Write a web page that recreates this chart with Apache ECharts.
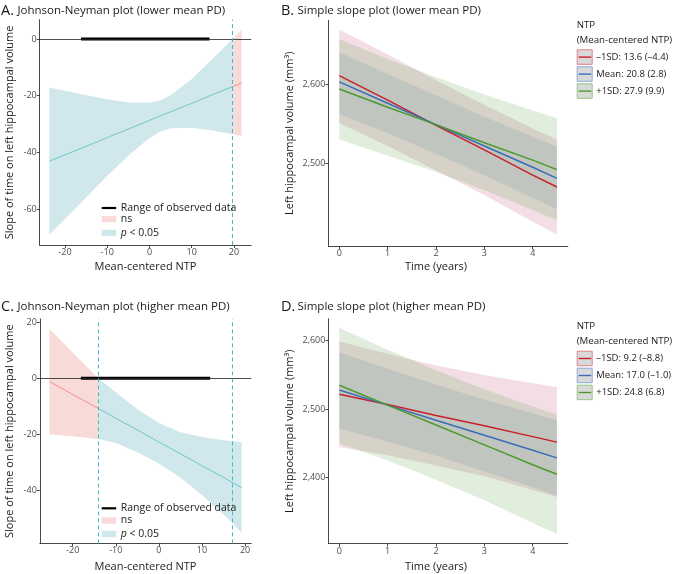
<!DOCTYPE html>
<html><head><meta charset="utf-8">
<script src="https://cdn.jsdelivr.net/npm/echarts@6/dist/echarts.min.js"></script>
<style>html,body{margin:0;padding:0;background:#fff}#c{width:674px;height:574px}</style>
</head><body><div id="c"></div>
<script>
// ---------- Panel A: Johnson-Neyman plot (lower mean PD) ----------
const jnA_ntp   = [-23.7, -20, -15, -10, -5, 0, 2.5, 5, 10, 15, 19.7, 21.8];
const jnA_slope = [-43.1, -40.9, -37.9, -34.8, -31.8, -28.7, -27.2, -25.7, -22.7, -19.6, -16.8, -15.5];
const jnA_upper = [-17.1, -18.3, -19.9, -21.3, -22.4, -22.5, -21.7, -19.9, -14.1, -6.9, 0.0, 3.2];
const jnA_lower = [-69.1, -63.5, -55.9, -48.3, -41.2, -34.9, -32.7, -31.5, -31.3, -32.3, -33.6, -34.2];
const jnA_sigRange = [-23.7, 19.7];
const jnA_nsRange  = [19.7, 21.8];
const jnA_bounds   = [19.7];
const jnA_observed = [-16.2, 14.2];
const jnA_xTicks = [-20, -10, 0, 10, 20];
const jnA_yTicks = [-60, -40, -20, 0];

// ---------- Panel C: Johnson-Neyman plot (higher mean PD) ----------
const jnC_ntp   = [-25.4, -20, -14.06, -10, -5, 0, 5, 10, 15, 17.1, 19.2];
const jnC_slope = [-1.2, -5.8, -10.8, -14.3, -18.5, -22.8, -27.0, -31.3, -35.5, -37.3, -39.1];
const jnC_upper = [17.7, 9.2, 0.0, -5.0, -11.0, -16.0, -19.3, -21.0, -22.2, -22.5, -22.9];
const jnC_lower = [-20.1, -20.8, -21.7, -23.2, -26.5, -30.5, -35.5, -41.8, -48.8, -51.8, -55.4];
const jnC_nsRange  = [-25.4, -14.06];
const jnC_sigRange = [-14.06, 19.2];
const jnC_bounds   = [-14.06, 17.1];
const jnC_observed = [-18.1, 11.9];
const jnC_xTicks = [-20, -10, 0, 10, 20];
const jnC_yTicks = [-40, -20, 0, 20];

// ---------- Panels B & D: simple slopes ----------
const timeYears = [0, 1, 2, 3, 4, 4.5];
const timeTicks = [0, 1, 2, 3, 4];

const ssB_labels = ['\u20131SD: 13.6 (\u20134.4)', 'Mean: 20.8 (2.8)', '+1SD: 27.9 (9.9)'];
const ssB_m1sd_fit   = [2611, 2580, 2548, 2517, 2485, 2470];
const ssB_m1sd_lower = [2551, 2522, 2491, 2460, 2426, 2410];
const ssB_m1sd_upper = [2669, 2638, 2605, 2574, 2544, 2530];
const ssB_mean_fit   = [2603, 2576, 2549, 2522, 2495, 2481];
const ssB_mean_lower = [2562, 2538, 2512, 2485, 2456, 2442];
const ssB_mean_upper = [2641, 2613, 2586, 2559, 2534, 2521];
const ssB_p1sd_fit   = [2594, 2571, 2549, 2526, 2504, 2492];
const ssB_p1sd_lower = [2530, 2510, 2489, 2466, 2441, 2428];
const ssB_p1sd_upper = [2657, 2632, 2609, 2587, 2567, 2557];
const ssB_yTicks = [2500, 2600];

const ssD_labels = ['\u20131SD: 9.2 (\u20138.8)', 'Mean: 17.0 (\u20131.0)', '+1SD: 24.8 (6.8)'];
const ssD_m1sd_fit   = [2522, 2507, 2491, 2476, 2460, 2452];
const ssD_m1sd_lower = [2445, 2433, 2418, 2402, 2382, 2372];
const ssD_m1sd_upper = [2599, 2581, 2564, 2550, 2538, 2532];
const ssD_mean_fit   = [2528, 2506, 2484, 2462, 2440, 2429];
const ssD_mean_lower = [2472, 2453, 2432, 2409, 2386, 2374];
const ssD_mean_upper = [2583, 2559, 2536, 2514, 2494, 2484];
const ssD_p1sd_fit   = [2535, 2506, 2477, 2448, 2419, 2405];
const ssD_p1sd_lower = [2450, 2425, 2397, 2367, 2334, 2318];
const ssD_p1sd_upper = [2619, 2587, 2557, 2529, 2504, 2492];
const ssD_yTicks = [2400, 2500, 2600];

// ---------- styling ----------
const FONT = 'Open Sans';
const TXT = '#1a1a1a';
const AX = '#333';
const SIG_FILL = '#d0e7eb', NS_FILL = '#f8dad8';
const SIG_LINE = '#66c2c8', NS_LINE = '#ef8a84', VLINE = '#3dbdc7';
const LINE_COL = ['#c8202a', '#3a6db5', '#4b9a2c'];
const BAND_FILL = ['rgba(175,60,95,0.17)', 'rgba(70,125,170,0.16)', 'rgba(105,165,85,0.2)'];
const KEY_STROKE = ['#e0838a', '#8aa9d6', '#93c784'];

const grids = [
  {left: 39.7, top: 19.7, width: 211.5, height: 225.3},
  {left: 328.4, top: 20.3, width: 239.4, height: 226},
  {left: 39.8, top: 319, width: 211.4, height: 224.4},
  {left: 328.4, top: 318.8, width: 239.4, height: 224.7}
];

function axisBase(gi, min, max, ticks, fmt) {
  return {
    type: 'value', gridIndex: gi, min: min, max: max, scale: true,
    axisLine: {show: true, onZero: false, lineStyle: {color: AX, width: 0.9}},
    axisTick: {show: true, length: 3, customValues: ticks, lineStyle: {color: AX, width: 0.9}},
    axisLabel: {customValues: ticks, formatter: fmt, color: '#4d4d4d', fontSize: 9, fontFamily: FONT, margin: 3},
    splitLine: {show: false}
  };
}
const plain = v => String(v);
const comma = v => v.toLocaleString('en-US');

function subsetIdx(xs, range) {
  const out = [];
  xs.forEach((x, i) => { if (x >= range[0] - 1e-9 && x <= range[1] + 1e-9) out.push(i); });
  return out;
}
function bandSeries(gi, xs, lo, hi, fill, z) {
  return {
    type: 'custom', xAxisIndex: gi, yAxisIndex: gi, z: z, silent: true, clip: true,
    data: xs.map((x, i) => [x, lo[i], hi[i]]),
    encode: {x: 0, y: [1, 2]},
    renderItem: function (params, api) {
      if (params.dataIndex !== 0) return null;
      const pts = [];
      for (let i = 0; i < xs.length; i++) pts.push(api.coord([xs[i], hi[i]]));
      for (let i = xs.length - 1; i >= 0; i--) pts.push(api.coord([xs[i], lo[i]]));
      return {type: 'polygon', shape: {points: pts}, style: {fill: fill}};
    }
  };
}
function lineSeries(gi, xs, ys, color, width, z) {
  return {
    type: 'line', xAxisIndex: gi, yAxisIndex: gi, z: z, silent: true, symbol: 'none',
    data: xs.map((x, i) => [x, ys[i]]),
    lineStyle: {color: color, width: width}, animation: false
  };
}
function jnSeries(gi, xs, slope, lo, hi, sigRange, nsRange, bounds, observed) {
  const s = [];
  const sigI = subsetIdx(xs, sigRange), nsI = subsetIdx(xs, nsRange);
  const take = (arr, idx) => idx.map(i => arr[i]);
  s.push(bandSeries(gi, take(xs, sigI), take(lo, sigI), take(hi, sigI), SIG_FILL, 1));
  s.push(bandSeries(gi, take(xs, nsI), take(lo, nsI), take(hi, nsI), NS_FILL, 1));
  s.push(lineSeries(gi, take(xs, sigI), take(slope, sigI), SIG_LINE, 0.9, 2));
  s.push(lineSeries(gi, take(xs, nsI), take(slope, nsI), NS_LINE, 0.9, 2));
  s.push({
    type: 'line', xAxisIndex: gi, yAxisIndex: gi, z: 3, silent: true, symbol: 'none',
    data: observed.map(x => [x, 0]),
    lineStyle: {color: '#000', width: 3}, animation: false,
    markLine: {
      silent: true, symbol: 'none', label: {show: false}, animation: false,
      data: [{yAxis: 0, lineStyle: {color: '#222', width: 0.8, type: 'solid'}}]
        .concat(bounds.map(b => ({xAxis: b, lineStyle: {color: VLINE, width: 1, type: [4, 3]}})))
    }
  });
  return s;
}
function ssSeries(gi, sets) {
  const s = [];
  sets.forEach((st, k) => s.push(bandSeries(gi, timeYears, st[1], st[2], BAND_FILL[k], 1 + k * 0.1)));
  sets.forEach((st, k) => s.push(lineSeries(gi, timeYears, st[0], LINE_COL[k], 1.5, 3)));
  return s;
}

const series = []
  .concat(jnSeries(0, jnA_ntp, jnA_slope, jnA_lower, jnA_upper, jnA_sigRange, jnA_nsRange, jnA_bounds, jnA_observed))
  .concat(ssSeries(1, [[ssB_m1sd_fit, ssB_m1sd_lower, ssB_m1sd_upper], [ssB_mean_fit, ssB_mean_lower, ssB_mean_upper], [ssB_p1sd_fit, ssB_p1sd_lower, ssB_p1sd_upper]]))
  .concat(jnSeries(2, jnC_ntp, jnC_slope, jnC_lower, jnC_upper, jnC_sigRange, jnC_nsRange, jnC_bounds, jnC_observed))
  .concat(ssSeries(3, [[ssD_m1sd_fit, ssD_m1sd_lower, ssD_m1sd_upper], [ssD_mean_fit, ssD_mean_lower, ssD_mean_upper], [ssD_p1sd_fit, ssD_p1sd_lower, ssD_p1sd_upper]]));

const xAxes = [
  axisBase(0, -25.98, 24.08, jnA_xTicks, plain),
  axisBase(1, -0.225, 4.725, timeTicks, plain),
  axisBase(2, -27.63, 21.43, jnC_xTicks, plain),
  axisBase(3, -0.225, 4.725, timeTicks, plain)
];
const yAxes = [
  axisBase(0, -72.7, 6.8, jnA_yTicks, plain),
  axisBase(1, 2395, 2681, ssB_yTicks, comma),
  axisBase(2, -59.1, 21.2, jnC_yTicks, plain),
  axisBase(3, 2304, 2632, ssD_yTicks, comma)
];

// ---------- text / legends ----------
const g = [];
function txt(x, y, text, size, opts) {
  g.push(Object.assign({
    type: 'text', x: x, y: y, silent: true, z: 100,
    style: Object.assign({text: text, fill: TXT, fontSize: size, fontFamily: FONT, textAlign: 'left', textVerticalAlign: 'middle'}, (opts && opts.style) || {})
  }, (opts && opts.el) || {}));
}
function title(x, y, letter, text) {
  txt(x, y - 0.5, letter, 14.5);
  txt(x + 16.5, y, text, 11.5);
}
title(1, 11, 'A.', 'Johnson-Neyman plot (lower mean PD)');
title(281, 11, 'B.', 'Simple slope plot (lower mean PD)');
title(1, 307, 'C.', 'Johnson-Neyman plot (higher mean PD)');
title(281, 307, 'D.', 'Simple slope plot (higher mean PD)');

function rotLabel(x, y, text) {
  txt(x, y, text, 11, {el: {rotation: Math.PI / 2}, style: {textAlign: 'center'}});
}
rotLabel(10, 132.4, 'Slope of time on left hippocampal volume');
rotLabel(10, 431.2, 'Slope of time on left hippocampal volume');
rotLabel(290, 133.3, 'Left hippocampal volume (mm\u00B3)');
rotLabel(290, 431.2, 'Left hippocampal volume (mm\u00B3)');
txt(145.5, 267, 'Mean-centered NTP', 11, {style: {textAlign: 'center'}});
txt(145.5, 566.5, 'Mean-centered NTP', 11, {style: {textAlign: 'center'}});
txt(436, 267, 'Time (years)', 11, {style: {textAlign: 'center'}});
txt(436, 566.5, 'Time (years)', 11, {style: {textAlign: 'center'}});

function jnLegend(x, yLine, yNs, yP) {
  g.push({type: 'line', silent: true, z: 100, shape: {x1: x, y1: yLine, x2: x + 14.5, y2: yLine}, style: {stroke: '#000', lineWidth: 2.2}});
  g.push({type: 'rect', silent: true, z: 100, shape: {x: x, y: yNs - 3.2, width: 14.5, height: 6.4}, style: {fill: NS_FILL}});
  g.push({type: 'rect', silent: true, z: 100, shape: {x: x, y: yP - 3.2, width: 14.5, height: 6.4}, style: {fill: SIG_FILL}});
  txt(x + 19, yLine, 'Range of observed data', 10.5);
  txt(x + 19, yNs, 'ns', 10.5);
  g.push({type: 'text', x: x + 19, y: yP, silent: true, z: 100, style: {
    text: '{i|p} < 0.05', fill: TXT, fontSize: 10.5, fontFamily: FONT, textVerticalAlign: 'middle',
    rich: {i: {fontStyle: 'italic', fontSize: 10.5, fontFamily: FONT, fill: TXT}}
  }});
}
jnLegend(101.7, 208, 219, 233);
jnLegend(101.7, 508.3, 520.5, 534);

function ssLegend(x, yTitle, yKey0, labels) {
  txt(x, yTitle, 'NTP', 9.7);
  txt(x, yTitle + 14.5, '(Mean-centered NTP)', 9.7);
  labels.forEach((lab, k) => {
    const y0 = yKey0 + k * 17;
    g.push({type: 'rect', silent: true, z: 100, shape: {x: x + 0.5, y: y0 + 0.5, width: 15, height: 14.5}, style: {fill: '#d9d9d9', stroke: KEY_STROKE[k], lineWidth: 1}});
    g.push({type: 'line', silent: true, z: 101, shape: {x1: x + 2, y1: y0 + 7.8, x2: x + 14.5, y2: y0 + 7.8}, style: {stroke: LINE_COL[k], lineWidth: 1.4}});
    txt(x + 19.5, y0 + 7.8, lab, 9.5);
  });
}
ssLegend(576.7, 25.5, 49.3, ssB_labels);
ssLegend(576.7, 326.5, 350.7, ssD_labels);

const chart = echarts.init(document.getElementById('c'), null, {renderer: 'canvas'});
chart.setOption({
  animation: false,
  backgroundColor: '#fff',
  grid: grids,
  xAxis: xAxes,
  yAxis: yAxes,
  series: series,
  graphic: g
});
</script>
</body></html>
